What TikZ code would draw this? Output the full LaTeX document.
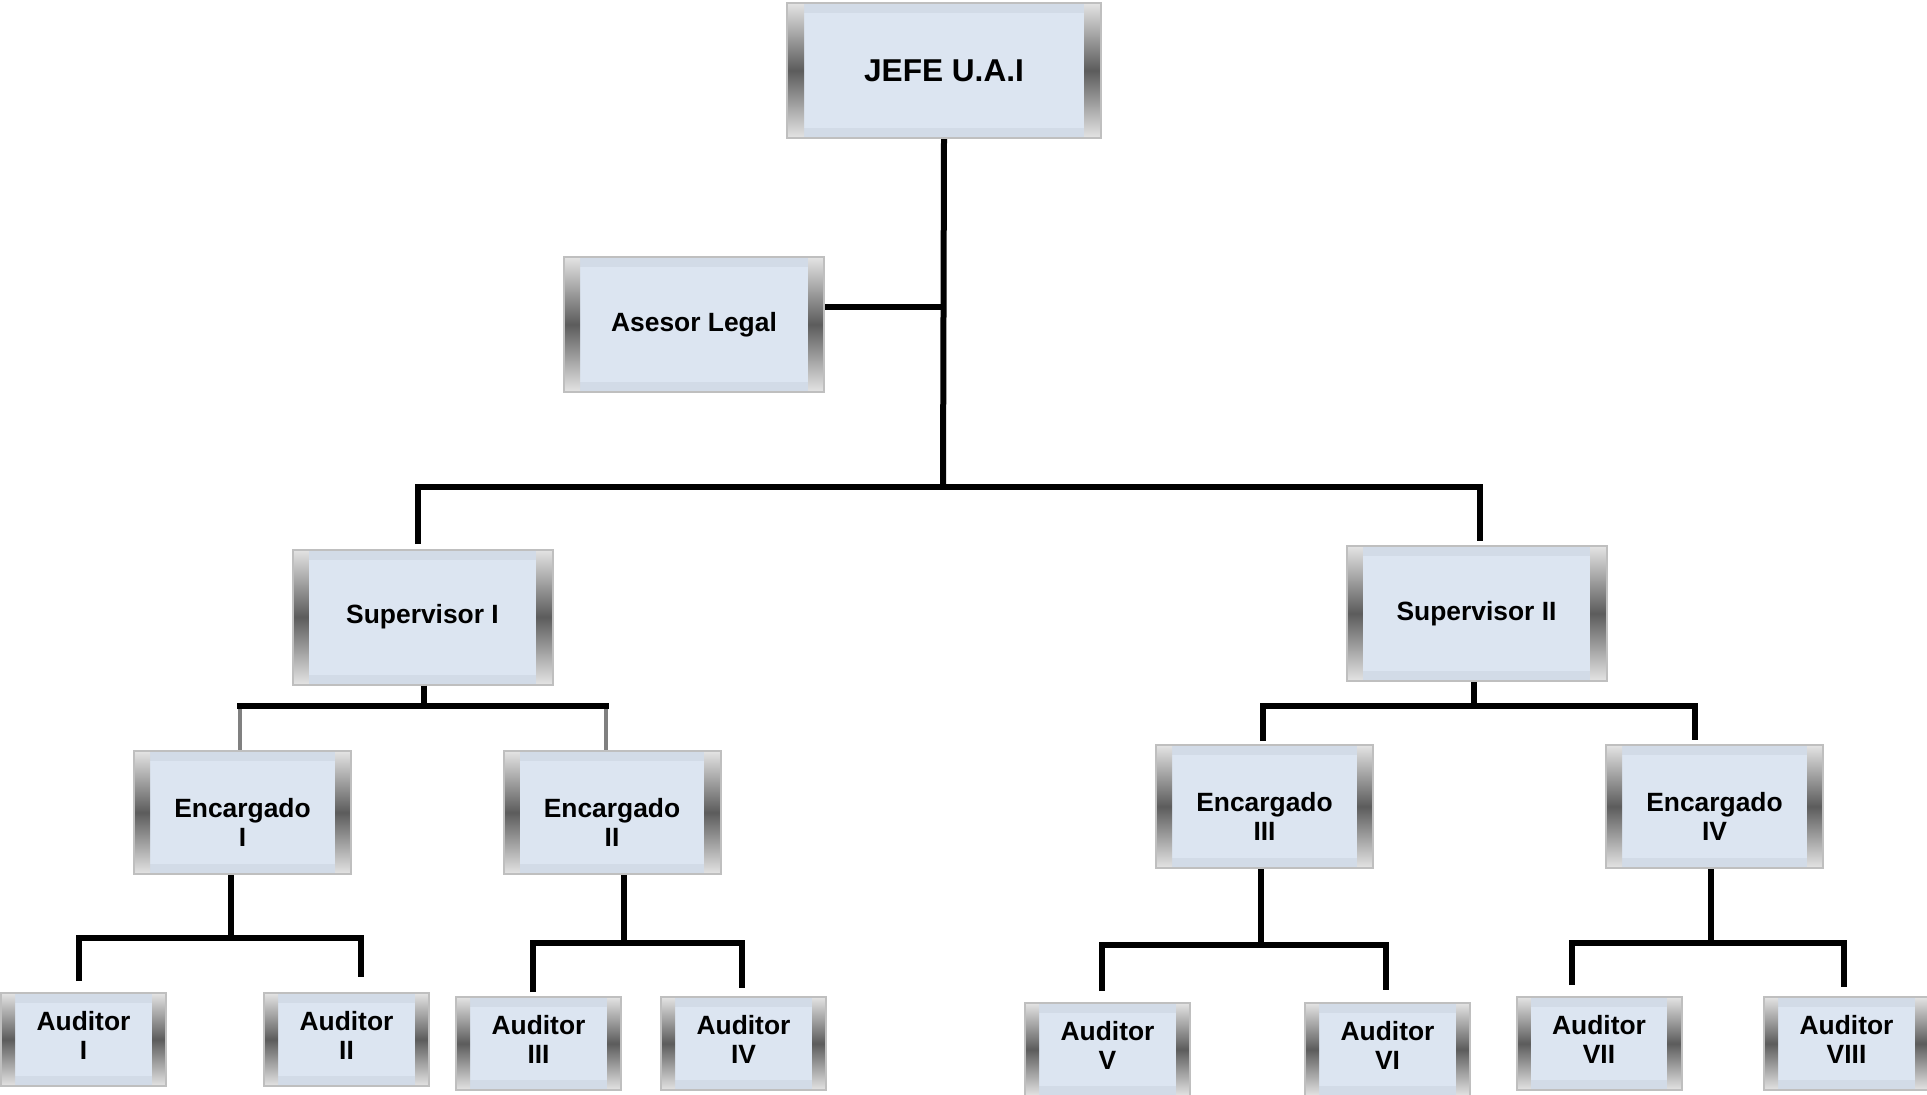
\documentclass[tikz,border=0pt]{standalone}
\usepackage{fontspec}
\setmainfont{Liberation Sans}
\usetikzlibrary{calc}

\definecolor{boxline}{HTML}{BFBFBF}
\definecolor{boxframe}{HTML}{D2DBE7}
\definecolor{boxinner}{HTML}{DCE5F1}
\definecolor{bevlight}{HTML}{E4E4E4}
\definecolor{bevdark}{HTML}{5C5C5C}

\begin{document}
\begin{tikzpicture}[x=0.5pt,y=-0.5pt,
  % framed box with shaded side bevels; #1 = bevel width
  bevelbox/.style={draw=boxline, line width=1pt, fill=boxframe,
    inner sep=0pt, align=center, text=black,
    path picture={
      \fill[boxinner]
        ([xshift=#1,yshift=-5pt]path picture bounding box.north west) rectangle
        ([xshift=-#1,yshift=5pt]path picture bounding box.south east);
      \shade[top color=bevlight, bottom color=bevlight, middle color=bevdark]
        (path picture bounding box.south west) rectangle
        ([xshift=#1]path picture bounding box.north west);
      \shade[top color=bevlight, bottom color=bevlight, middle color=bevdark]
        ([xshift=-#1]path picture bounding box.south east) rectangle
        (path picture bounding box.north east);
    }},
  labfont/.style={font=\fontsize{13.2}{14.8}\selectfont\bfseries},
  headbox/.style={bevelbox=8.5pt, minimum width=157pt, minimum height=67.5pt,
    font=\fontsize{15.8}{19}\selectfont\bfseries},
  midbox/.style={bevelbox=8pt, minimum width=130pt, minimum height=67.5pt, labfont},
  encbox/.style={bevelbox=8pt, minimum width=108.5pt, minimum height=61.5pt},
  audbox/.style={bevelbox=7pt, minimum width=82.5pt, minimum height=46.5pt},
  % two-line captions inside the lower boxes
  enctext/.style={labfont, align=center, yshift=-5pt},
  audtext/.style={labfont, align=center, yshift=2pt},
  conn/.style={draw=black, line width=3pt, line join=miter},
  softconn/.style={draw=black!50, line width=2.2pt}
]
\useasboundingbox[fill=white] (0,0) rectangle (1927,1094);

% ---- boxes ----
\node[headbox] (jefe)   at (944,70.5)    {JEFE U.A.I};
\node[midbox]  (asesor) at (694,324.5)   {Asesor Legal};
\node[midbox]  (supI)   at (422.5,617)   {Supervisor I};
\node[midbox]  (supII)  at (1476.5,613.5){Supervisor II};

\node[encbox, label={[enctext]center:{Encargado\\I}}]   (encI)   at (242.5,812.5)  {};
\node[encbox, label={[enctext]center:{Encargado\\II}}]  (encII)  at (612,812.5)    {};
\node[encbox, label={[enctext]center:{Encargado\\III}}] (encIII) at (1264.5,806.5) {};
\node[encbox, label={[enctext]center:{Encargado\\IV}}]  (encIV)  at (1714.5,806.5) {};

\node[audbox, label={[audtext]center:{Auditor\\I}}]    (audI)    at (83.5,1039.5)  {};
\node[audbox, label={[audtext]center:{Auditor\\II}}]   (audII)   at (346.5,1039.5) {};
\node[audbox, label={[audtext]center:{Auditor\\III}}]  (audIII)  at (538.5,1043.5) {};
\node[audbox, label={[audtext]center:{Auditor\\IV}}]   (audIV)   at (743.5,1043.5) {};
\node[audbox, label={[audtext]center:{Auditor\\V}}]    (audV)    at (1107.5,1049.5){};
\node[audbox, label={[audtext]center:{Auditor\\VI}}]   (audVI)   at (1387.5,1049.5){};
\node[audbox, label={[audtext]center:{Auditor\\VII}}]  (audVII)  at (1599,1043.5)  {};
\node[audbox, label={[audtext]center:{Auditor\\VIII}}] (audVIII) at (1846.5,1043.5){};

% ---- junctions and free ends ----
\coordinate (hub)  at (943,487);
\coordinate (asj)  at (943,307);
\coordinate (dS1)  at (418,544);
\coordinate (dS2)  at (1480,541);

\coordinate (sIj)  at (424,706);
\coordinate (gI1)  at (240,706);
\coordinate (gI2)  at (606,706);
\coordinate (sIIj) at (1474,706);
\coordinate (dE3)  at (1263,741);
\coordinate (dE4)  at (1695,740);

\coordinate (eIj)   at (231,938);
\coordinate (aI1)   at (79,981);
\coordinate (aI2)   at (361,977);
\coordinate (eIIj)  at (624,943);
\coordinate (aII1)  at (533,992);
\coordinate (aII2)  at (742,988);
\coordinate (eIIIj) at (1261,945);
\coordinate (aIII1) at (1102,991);
\coordinate (aIII2) at (1386,990);
\coordinate (eIVj)  at (1711,943);
\coordinate (aIV1)  at (1572,985);
\coordinate (aIV2)  at (1844,987);

% ---- connectors ----
\draw[conn] (jefe.south) -- (hub);
\draw[conn] (asesor.east |- asj) -- (asj);
\draw[conn] (dS1) |- (hub) -| (dS2);

\draw[softconn] (gI1) -- (gI1 |- encI.north);
\draw[softconn] (gI2) -- (gI2 |- encII.north);
\draw[conn] (supI.south -| sIj) -- (sIj);
\draw[conn] ([xshift=-1.5pt]gI1) -- ([xshift=1.5pt]gI2);

\draw[conn] (supII.south -| sIIj) -- (sIIj);
\draw[conn] (dE3) |- (sIIj) -| (dE4);

\draw[conn] (encI.south -| eIj) -- (eIj);
\draw[conn] (aI1) |- (eIj) -| (aI2);
\draw[conn] (encII.south -| eIIj) -- (eIIj);
\draw[conn] (aII1) |- (eIIj) -| (aII2);
\draw[conn] (encIII.south -| eIIIj) -- (eIIIj);
\draw[conn] (aIII1) |- (eIIIj) -| (aIII2);
\draw[conn] (encIV.south -| eIVj) -- (eIVj);
\draw[conn] (aIV1) |- (eIVj) -| (aIV2);
\end{tikzpicture}
\end{document}
